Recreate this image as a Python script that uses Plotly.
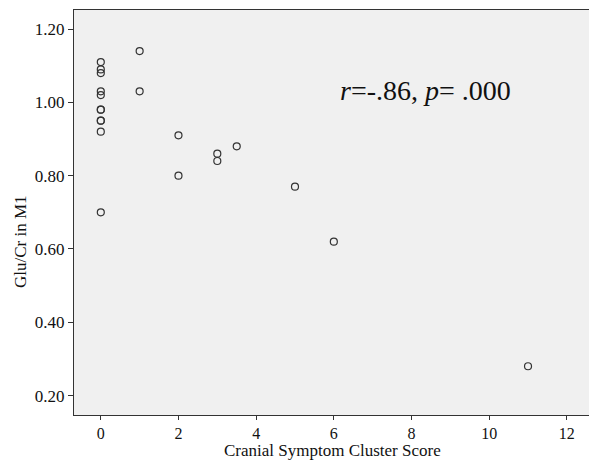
import plotly.graph_objects as go

# Data
symptom_score = [0, 0, 0, 0, 0, 0, 0, 0, 0, 0, 0,
                 1, 1, 2, 2, 3, 3, 3.5, 5, 6, 11]
glu_cr = [1.11, 1.09, 1.08, 1.03, 1.02, 0.98, 0.98, 0.95, 0.95, 0.92, 0.70,
          1.14, 1.03, 0.91, 0.80, 0.86, 0.84, 0.88, 0.77, 0.62, 0.28]

x_ticks = [0, 2, 4, 6, 8, 10, 12]
y_ticks = [0.20, 0.40, 0.60, 0.80, 1.00, 1.20]
y_tick_labels = ["0.20", "0.40", "0.60", "0.80", "1.00", "1.20"]

FONT = "Liberation Serif, Times New Roman, serif"
AX = "#333333"
TXT = "#111111"

fig = go.Figure()
fig.add_trace(go.Scatter(
    x=symptom_score, y=glu_cr, mode="markers",
    marker=dict(symbol="circle-open", size=7, color="#333333",
                line=dict(width=1.2, color="#333333")),
    showlegend=False, hoverinfo="skip",
))

PLOT_TOP, PLOT_BOTTOM, PLOT_LEFT, PLOT_RIGHT = 10, 415, 74, 589
PH = PLOT_BOTTOM - PLOT_TOP
PW = PLOT_RIGHT - PLOT_LEFT

fig.update_layout(
    width=589, height=461,
    margin=dict(l=PLOT_LEFT, r=0, t=PLOT_TOP, b=461 - PLOT_BOTTOM),
    paper_bgcolor="white", plot_bgcolor="#f0f0f0",
    font=dict(family=FONT, size=16, color=TXT),
    xaxis=dict(range=[-0.69, 12.57], tickvals=x_ticks, ticks="outside",
               ticklen=4, tickcolor=AX, showline=True, linecolor=AX,
               linewidth=1, mirror=True, showgrid=False, zeroline=False,
               tickfont=dict(family=FONT, size=16, color=TXT)),
    yaxis=dict(range=[0.147, 1.252], tickvals=y_ticks, ticktext=y_tick_labels,
               ticks="outside", ticklen=5, tickcolor=AX, showline=True,
               linecolor=AX, linewidth=1, showgrid=False, zeroline=False,
               tickfont=dict(family=FONT, size=17, color=TXT)),
    annotations=[
        dict(text="<i>r</i>=-.86, <i>p</i>= .000", xref="paper", yref="paper",
             x=(425 - PLOT_LEFT) / PW, y=(PLOT_BOTTOM - 91) / PH,
             xanchor="center", yanchor="middle",
             showarrow=False, font=dict(family=FONT, size=28, color=TXT)),
        dict(text="Cranial Symptom Cluster Score", xref="paper", yref="paper",
             x=(332 - PLOT_LEFT) / PW, y=-(451 - PLOT_BOTTOM) / PH,
             xanchor="center", yanchor="middle", showarrow=False,
             font=dict(family=FONT, size=17, color=TXT)),
        dict(text="Glu/Cr in M1", xref="paper", yref="paper",
             x=(20 - PLOT_LEFT) / PW, y=(PLOT_BOTTOM - 242) / PH,
             xanchor="center", yanchor="middle", showarrow=False,
             textangle=-90, font=dict(family=FONT, size=17, color=TXT)),
    ],
)

fig.write_html("out.html")
